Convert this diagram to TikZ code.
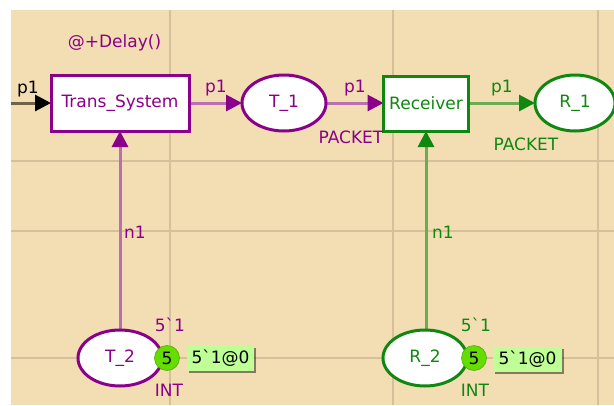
\documentclass[tikz,border=0pt]{standalone}
\usepackage{fontspec}
\newfontfamily\cpnfont{DejaVu Sans}
\usetikzlibrary{arrows.meta,shadows,shapes.geometric}
\definecolor{beige}{RGB}{243,221,179}
\definecolor{gridc}{RGB}{214,192,156}
\definecolor{mag}{RGB}{139,0,139}
\definecolor{magarc}{RGB}{186,110,180}
\definecolor{grn}{RGB}{16,136,16}
\definecolor{grnarc}{RGB}{108,172,80}
\definecolor{tokfill}{RGB}{102,221,0}
\definecolor{markfill}{RGB}{190,255,150}
\definecolor{blkarc}{RGB}{110,100,70}
\tikzset{
  txt/.style={font=\cpnfont\fontsize{17}{20}\selectfont, inner sep=0pt},
  trans/.style={txt, rectangle, draw=#1, line width=3pt, fill=white, text=#1},
  place/.style={txt, ellipse, draw=#1, line width=3pt, fill=white, text=#1,
    minimum width=84pt, minimum height=56pt},
  token/.style={txt, circle, fill=tokfill, draw=tokfill!80!black, line width=0.6pt,
    minimum size=25pt, text=black},
  marking/.style={txt, rectangle, fill=markfill, text=black, minimum height=25pt,
    drop shadow={shadow xshift=2pt, shadow yshift=-2pt, fill=black, opacity=0.45}},
  arc/.style={line width=3pt, draw=#1},
  tip/.style={-{Triangle[length=16pt,width=16pt,color=#1]}},
  gridline/.style={draw=gridc, line width=2pt},
}
\begin{document}
\begin{tikzpicture}[x=1pt,y=-1pt]
  \useasboundingbox (0,0) rectangle (614,405);
  \fill[white] (0,0) rectangle (614,405);
  \fill[beige] (11,10) rectangle (614,405);
  % page grid
  \foreach \gx in {170,393,598} \draw[gridline] (\gx,10) -- (\gx,405);
  \foreach \gy in {161,231,358} \draw[gridline] (11,\gy) -- (614,\gy);

  % arcs first, so the nodes cover their ends
  \coordinate (in) at (11,103);
  \coordinate (tsw) at (51,103);
  \coordinate (tse) at (189,103);
  \coordinate (tss) at (120,131);
  \coordinate (t1w) at (242,103);
  \coordinate (t1e) at (326,103);
  \coordinate (rcw) at (383.5,103);
  \coordinate (rce) at (468.5,103);
  \coordinate (rcs) at (426,131);
  \coordinate (r1w) at (535,103);
  \coordinate (t2n) at (120,330);
  \coordinate (r2n) at (426,330);
  \draw[arc=blkarc, tip=black] (in) -- (tsw);
  \draw[arc=magarc, tip=mag] (tse) -- (t1w);
  \draw[arc=magarc, tip=mag] (t1e) -- (rcw);
  \draw[arc=grnarc, tip=grn] (rce) -- (r1w);
  \draw[arc=magarc, tip=mag] (t2n) -- (tss);
  \draw[arc=grnarc, tip=grn] (r2n) -- (rcs);

  % transitions
  \node[trans=mag, minimum width=138pt, minimum height=56pt] (ts) at (120,103) {Trans\_System};
  \node[trans=grn, minimum width=85pt, minimum height=55pt] (rc) at (426,103.5) {Receiver};
  % places
  \node[place=mag] (t1) at (284,103) {T\_1};
  \node[place=grn, minimum width=80pt] (r1) at (575,103) {R\_1};
  \node[place=mag] (t2) at (120,358) {T\_2};
  \node[place=grn] (r2) at (425,358) {R\_2};
  % tokens and markings
  \node[token] (tk2) at (167,358) {5};
  \node[token] (rk2) at (474,358) {5};
  \node[marking, minimum width=67pt] (tm2) at (220.5,358.5) {5`1@0};
  \node[marking, minimum width=69pt] (rm2) at (527.5,359) {5`1@0};

  % inscriptions
  \node[txt, text=mag] (delay) at (114.5,43) {@+Delay()};
  \node[txt, text=black] (a0) at (28,89) {p1};
  \node[txt, text=mag] (a1) at (216,88) {p1};
  \node[txt, text=mag] (a2) at (355,88) {p1};
  \node[txt, text=grn] (a3) at (502,88) {p1};
  \node[txt, text=mag] (ty1) at (351,137) {PACKET};
  \node[txt, text=grn] (ty2) at (526,144) {PACKET};
  \node[txt, text=mag] (a4) at (135,232) {n1};
  \node[txt, text=grn] (a5) at (443,232) {n1};
  \node[txt, text=mag] (im1) at (170,325) {5`1};
  \node[txt, text=grn] (im2) at (476,325) {5`1};
  \node[txt, text=mag] (ty3) at (169,390) {INT};
  \node[txt, text=grn] (ty4) at (475,390) {INT};
\end{tikzpicture}
\end{document}
